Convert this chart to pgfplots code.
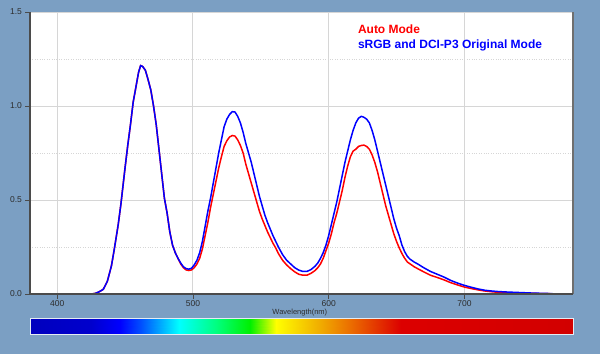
\documentclass[border=0pt]{standalone}
\usepackage{pgfplots}
\pgfplotsset{compat=1.18}
\usepackage{fontspec}
\setmainfont{Liberation Sans}
\definecolor{bgblue}{RGB}{123,159,195}
\definecolor{gridgray}{RGB}{214,214,214}
\definecolor{axgray}{RGB}{75,75,75}
\definecolor{ticktext}{RGB}{45,45,45}
\definecolor{pred}{RGB}{255,0,0}
\definecolor{pblue}{RGB}{0,0,255}

\pgfplotstableread{
x y
425 0.000
428 0.003
431 0.012
434 0.025
437 0.068
440 0.15
442 0.234
445 0.37
447 0.48
450 0.67
452 0.79
454 0.90
456 1.02
458 1.10
460 1.18
461.5 1.215
463 1.21
465 1.19
467 1.14
469 1.085
471 1.00
473 0.90
475 0.77
477 0.64
479 0.51
481 0.43
483 0.33
485 0.26
487 0.22
489 0.19
491 0.16
493 0.14
495 0.128
497 0.125
499 0.128
501 0.14
503 0.16
505 0.19
507 0.24
509 0.31
511 0.38
513 0.46
515 0.53
517 0.60
519 0.67
521 0.73
523 0.785
525 0.815
527 0.835
529 0.843
531 0.84
533 0.82
535 0.79
537 0.75
539 0.69
541 0.64
543 0.59
545 0.54
547 0.49
549 0.44
551 0.40
553 0.365
555 0.33
557 0.30
559 0.27
561 0.245
563 0.215
566 0.18
569 0.155
572 0.135
575 0.118
578 0.105
581 0.10
584 0.10
587 0.11
590 0.125
592 0.14
594 0.16
596 0.19
598 0.23
600 0.27
602 0.32
604 0.38
606 0.43
608 0.49
610 0.55
612 0.62
614 0.68
616 0.73
618 0.76
620 0.77
622 0.785
624 0.79
626 0.792
628 0.785
630 0.77
632 0.74
634 0.70
636 0.65
638 0.59
640 0.53
642 0.47
644 0.42
646 0.37
648 0.32
650 0.28
652 0.245
654 0.215
656 0.19
658 0.17
660 0.16
663 0.145
666 0.133
670 0.118
675 0.10
680 0.088
685 0.075
690 0.06
695 0.048
700 0.037
705 0.029
710 0.022
715 0.016
720 0.012
725 0.009
730 0.007
740 0.005
750 0.003
760 0.002
765 0.001
}\autotable

\pgfplotstableread{
x y
425 0.000
428 0.003
431 0.012
434 0.025
437 0.068
440 0.15
442 0.234
445 0.37
447 0.48
450 0.67
452 0.79
454 0.90
456 1.02
458 1.10
460 1.18
461.5 1.215
463 1.21
465 1.19
467 1.14
469 1.085
471 1.00
473 0.90
475 0.77
477 0.64
479 0.51
481 0.43
483 0.33
485 0.26
487 0.22
489 0.19
491 0.165
493 0.145
495 0.135
497 0.132
499 0.137
501 0.155
503 0.18
505 0.22
507 0.28
509 0.36
511 0.44
513 0.51
515 0.59
517 0.67
519 0.75
521 0.82
523 0.89
525 0.93
527 0.955
529 0.97
531 0.968
533 0.945
535 0.91
537 0.86
539 0.80
541 0.75
543 0.70
545 0.64
547 0.58
549 0.52
551 0.47
553 0.42
555 0.38
557 0.345
559 0.31
561 0.28
563 0.25
566 0.21
569 0.18
572 0.16
575 0.14
578 0.127
581 0.12
584 0.12
587 0.13
590 0.148
592 0.165
594 0.19
596 0.22
598 0.26
600 0.31
602 0.37
604 0.43
606 0.49
608 0.56
610 0.63
612 0.70
614 0.76
616 0.82
618 0.87
620 0.91
622 0.935
624 0.945
626 0.94
628 0.93
630 0.91
632 0.87
634 0.82
636 0.76
638 0.70
640 0.64
642 0.58
644 0.52
646 0.46
648 0.40
650 0.35
652 0.31
654 0.26
656 0.225
658 0.20
660 0.185
663 0.17
666 0.158
670 0.14
675 0.12
680 0.105
685 0.09
690 0.072
695 0.058
700 0.046
705 0.036
710 0.027
715 0.02
720 0.016
725 0.013
730 0.011
740 0.008
750 0.005
760 0.003
765 0.002
}\srgbtable

\begin{document}
\begin{tikzpicture}[x=1pt,y=1pt]
\fill[bgblue] (0,0) rectangle (600,354);
\useasboundingbox (0,0) rectangle (600,354);
\begin{axis}[
  at={(30pt,60pt)}, anchor=south west,
  scale only axis, width=543pt, height=282pt,
  xmin=380, xmax=780, ymin=0, ymax=1.5,
  clip=false,
  axis background/.style={fill=white},
  axis line style={draw=none},
  xtick={400,500,600,700},
  ytick={0,0.5,1.0,1.5},
  minor ytick={0.25,0.75,1.25},
  grid=both,
  major grid style={gridgray, line width=0.9pt},
  minor grid style={gridgray, dotted, line width=0.9pt},
  tick pos=left,
  tick align=outside,
  major tick length=4.5pt, minor tick length=0pt,
  tick style={axgray, line width=0.8pt},
  /pgf/number format/assume math mode=true,
  yticklabel style={/pgf/number format/fixed, /pgf/number format/fixed zerofill, /pgf/number format/precision=1},
  ticklabel style={font=\fontsize{8.5}{9.5}\selectfont, text=ticktext},
  xticklabel style={yshift=1pt},
  xlabel={Wavelength(nm)},
  xlabel style={at={(axis description cs:0.497,0)}, anchor=center, yshift=-19pt, font=\fontsize{7.5}{8}\selectfont, text=ticktext},
  legend style={at={(rel axis cs:0.6,0.962)}, anchor=north west, draw=none, fill=none,
    font=\fontsize{12}{14}\selectfont\bfseries, row sep=1pt, inner sep=0pt},
  legend cell align=left,
  legend image code/.code={},
]
\addplot[pred, line width=1.5pt] table[x=x, y=y] {\autotable};
\addlegendentry{\textcolor{pred}{Auto Mode}}
\addplot[pblue, line width=1.5pt] table[x=x, y=y] {\srgbtable};
\addlegendentry{\textcolor{pblue}{sRGB and DCI-P3 Original Mode}}
\draw[axgray, line width=1pt] (rel axis cs:0,0) -- (rel axis cs:0,1);
\draw[axgray!80, line width=2pt] (rel axis cs:1,0) -- (rel axis cs:1,1);
\draw[axgray, line width=2pt] (rel axis cs:0,0) -- (rel axis cs:1.0,0);
\end{axis}
\begin{axis}[
  at={(30pt,20pt)}, anchor=south west,
  scale only axis, width=543pt, height=16pt,
  xmin=380, xmax=780, ymin=0, ymax=1,
  hide axis,
  colormap={spec}{
    rgb255(380pt)=(0,0,190);
    rgb255(425pt)=(0,0,205);
    rgb255(446pt)=(0,0,255);
    rgb255(462pt)=(0,80,255);
    rgb255(490pt)=(0,255,255);
    rgb255(517pt)=(0,255,128);
    rgb255(542pt)=(0,240,0);
    rgb255(561pt)=(255,255,0);
    rgb255(594pt)=(240,170,0);
    rgb255(616pt)=(235,110,0);
    rgb255(653pt)=(220,0,0);
    rgb255(780pt)=(210,0,0)
  },
]
\addplot[surf, shader=interp, point meta=x, mesh/rows=2] coordinates {
(380,0) (425,0) (446,0) (462,0) (490,0) (517,0) (542,0) (561,0) (594,0) (616,0) (653,0) (780,0)
(380,1) (425,1) (446,1) (462,1) (490,1) (517,1) (542,1) (561,1) (594,1) (616,1) (653,1) (780,1)
};
\end{axis}
\draw[white!80!bgblue, line width=0.8pt] (30,20) rectangle (573,36);
\end{tikzpicture}
\end{document}
